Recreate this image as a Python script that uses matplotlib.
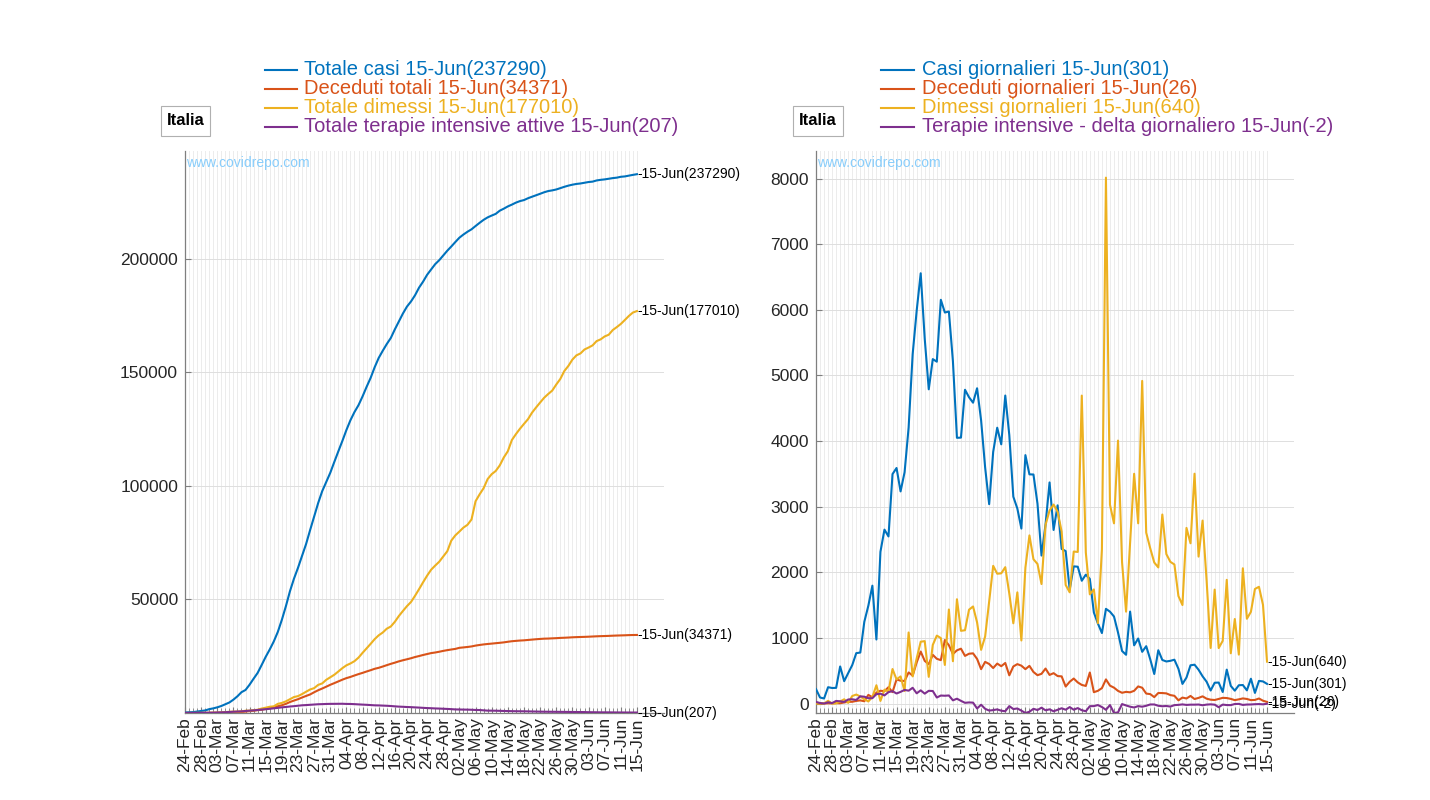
import numpy as np
import pandas as pd
import matplotlib
matplotlib.use("Agg")
import matplotlib.pyplot as plt
from matplotlib.lines import Line2D
from matplotlib.patches import Rectangle

plt.rcParams['font.family'] = ['Liberation Sans', 'DejaVu Sans']

# ---------------- data ----------------
dates = pd.date_range('2020-02-24', '2020-06-15', freq='D')
date_labels = [d.strftime('%d-%b') for d in dates]
region = 'Italia'
watermark = 'www.covidrepo.com'

totale_casi = [229, 322, 400, 650, 888, 1128, 1694, 2036, 2502, 3089, 3858, 4636, 5883, 7375,
               9172, 10149, 12462, 15113, 17660, 21157, 24747, 27980, 31506, 35713, 41035, 47021,
               53578, 59138, 63927, 69176, 74386, 80539, 86498, 92472, 97689, 101739, 105792,
               110574, 115242, 119827, 124632, 128948, 132547, 135586, 139422, 143626, 147577,
               152271, 156363, 159516, 162488, 165155, 168941, 172434, 175925, 178972, 181228,
               183957, 187327, 189973, 192994, 195351, 197675, 199414, 201505, 203591, 205463,
               207428, 209328, 210717, 211938, 213013, 214457, 215858, 217185, 218268, 219070,
               219814, 221216, 222104, 223096, 223885, 224760, 225435, 225886, 226699, 227364,
               228006, 228658, 229327, 229858, 230158, 230555, 231139, 231732, 232248, 232664,
               232997, 233197, 233515, 233836, 234013, 234531, 234801, 234998, 235278, 235561,
               235763, 236142, 236305, 236651, 236989, 237290]
deceduti_totali = [7, 10, 12, 17, 21, 29, 34, 52, 79, 107, 148, 197, 233, 366, 463, 631, 827,
                   1016, 1266, 1441, 1809, 2158, 2503, 2978, 3405, 4032, 4825, 5476, 6077, 6820,
                   7503, 8165, 9134, 10023, 10779, 11591, 12428, 13155, 13915, 14681, 15362,
                   15887, 16523, 17127, 17669, 18279, 18849, 19468, 19899, 20465, 21067, 21645,
                   22170, 22745, 23227, 23660, 24114, 24648, 25085, 25549, 25969, 26384, 26644,
                   26977, 27359, 27682, 27967, 28236, 28710, 28884, 29079, 29315, 29684, 29958,
                   30201, 30395, 30560, 30739, 30911, 31106, 31368, 31610, 31763, 31908, 32007,
                   32169, 32330, 32486, 32616, 32735, 32785, 32877, 32955, 33072, 33142, 33229,
                   33340, 33415, 33475, 33530, 33601, 33689, 33774, 33846, 33899, 33964, 34043,
                   34114, 34167, 34223, 34301, 34345, 34371]
totale_dimessi = [1, 1, 3, 45, 46, 50, 83, 149, 160, 276, 414, 523, 589, 622, 724, 1004, 1045,
                  1258, 1439, 1966, 2335, 2749, 2941, 4025, 4440, 5129, 6072, 7024, 7432, 8326,
                  9362, 10361, 10950, 12384, 13030, 14620, 15729, 16847, 18278, 19758, 20996,
                  21815, 22837, 24392, 26491, 28470, 30455, 32534, 34211, 35435, 37130, 38092,
                  40164, 42727, 44927, 47055, 48877, 51600, 54543, 57576, 60498, 63120, 64928,
                  66624, 68941, 71252, 75945, 78249, 79914, 81654, 82879, 85231, 93245, 96276,
                  99023, 103031, 105186, 106587, 109039, 112541, 115288, 120205, 122810, 125176,
                  127326, 129401, 132282, 134560, 136720, 138840, 140479, 141981, 144658, 147101,
                  150604, 152844, 155633, 157507, 158355, 160092, 160938, 161895, 163781, 164548,
                  165837, 166584, 168646, 169939, 171338, 173085, 174865, 176370, 177010]
terapie_intensive = [26, 35, 36, 56, 64, 105, 140, 166, 229, 295, 351, 462, 567, 650, 733, 877,
                     1028, 1153, 1328, 1518, 1672, 1851, 2060, 2257, 2498, 2655, 2857, 3009, 3204,
                     3396, 3489, 3612, 3732, 3856, 3906, 3981, 4023, 4035, 4053, 4068, 3994, 3977,
                     3898, 3792, 3693, 3605, 3497, 3381, 3343, 3260, 3186, 3079, 2936, 2812, 2733,
                     2635, 2573, 2471, 2384, 2267, 2173, 2102, 2009, 1956, 1863, 1795, 1694, 1578,
                     1539, 1501, 1479, 1427, 1333, 1311, 1168, 1034, 1027, 999, 952, 893, 855, 808,
                     775, 762, 749, 716, 676, 640, 595, 572, 553, 541, 521, 505, 489, 475, 450, 435,
                     424, 408, 353, 338, 316, 293, 287, 283, 263, 249, 236, 227, 220, 209, 207]

casi_giornalieri = [221, 93, 78, 250, 238, 240, 566, 342, 466, 587, 769, 778, 1247, 1492, 1797,
                    977, 2313, 2651, 2547, 3497, 3590, 3233, 3526, 4207, 5322, 5986, 6557, 5560,
                    4789, 5249, 5210, 6153, 5959, 5974, 5217, 4050, 4053, 4782, 4668, 4585, 4805,
                    4316, 3599, 3039, 3836, 4204, 3951, 4694, 4092, 3153, 2972, 2667, 3786, 3493,
                    3491, 3047, 2256, 2729, 3370, 2646, 3021, 2357, 2324, 1739, 2091, 2086, 1872,
                    1965, 1900, 1389, 1221, 1075, 1444, 1401, 1327, 1083, 802, 744, 1402, 888, 992,
                    789, 875, 675, 451, 813, 665, 642, 652, 669, 531, 300, 397, 584, 593, 516, 416,
                    333, 200, 318, 321, 177, 518, 270, 197, 280, 283, 202, 379, 163, 346, 338, 301]
deceduti_giornalieri = [7, 3, 2, 5, 4, 8, 5, 18, 27, 28, 41, 49, 36, 133, 97, 168, 196, 189, 250,
                        175, 368, 349, 345, 475, 427, 627, 793, 651, 601, 743, 683, 662, 969, 889,
                        756, 812, 837, 727, 760, 766, 681, 525, 636, 604, 542, 610, 570, 619, 431,
                        566, 602, 578, 525, 575, 482, 433, 454, 534, 437, 464, 420, 415, 260, 333,
                        382, 323, 285, 269, 474, 174, 195, 236, 369, 274, 243, 194, 165, 179, 172,
                        195, 262, 242, 153, 145, 99, 162, 161, 156, 130, 119, 50, 92, 78, 117, 70,
                        87, 111, 75, 60, 55, 71, 88, 85, 72, 53, 65, 79, 71, 53, 56, 78, 44, 26]
dimessi_giornalieri = [1, 0, 2, 42, 1, 4, 33, 66, 11, 116, 138, 109, 66, 33, 102, 280, 41, 213,
                       181, 527, 369, 414, 192, 1084, 415, 689, 943, 952, 408, 894, 1036, 999, 589,
                       1434, 646, 1590, 1109, 1118, 1431, 1480, 1238, 819, 1022, 1555, 2099, 1979,
                       1985, 2079, 1677, 1224, 1695, 962, 2072, 2563, 2200, 2128, 1822, 2723, 2943,
                       3033, 2922, 2622, 1808, 1696, 2317, 2311, 4693, 2304, 1665, 1740, 1225, 2352,
                       8014, 3031, 2747, 4008, 2155, 1401, 2452, 3502, 2747, 4917, 2605, 2366, 2150,
                       2075, 2881, 2278, 2160, 2120, 1639, 1502, 2677, 2443, 3503, 2240, 2789, 1874,
                       848, 1737, 846, 957, 1886, 767, 1289, 747, 2062, 1293, 1399, 1747, 1780,
                       1505, 640]
ti_delta_giornaliero = [26, 9, 1, 20, 8, 41, 35, 26, 63, 66, 56, 111, 105, 83, 83, 144, 151, 125,
                        175, 190, 154, 179, 209, 197, 241, 157, 202, 152, 195, 192, 93, 123, 120,
                        124, 50, 75, 42, 12, 18, 15, -74, -17, -79, -106, -99, -88, -108, -116,
                        -38, -83, -74, -107, -143, -124, -79, -98, -62, -102, -87, -117, -94, -71,
                        -93, -53, -93, -68, -101, -116, -39, -38, -22, -52, -94, -22, -143, -134,
                        -7, -28, -47, -59, -38, -47, -33, -13, -13, -33, -40, -36, -45, -23, -19,
                        -12, -20, -16, -16, -14, -25, -15, -11, -16, -55, -15, -22, -23, -6, -4,
                        -20, -14, -13, -9, -7, -11, -2]

left_names = ['Totale casi', 'Deceduti totali', 'Totale dimessi',
              'Totale terapie intensive attive']
right_names = ['Casi giornalieri', 'Deceduti giornalieri', 'Dimessi giornalieri',
               'Terapie intensive - delta giornaliero']
colors = ['#0072BD', '#D95319', '#EDB120', '#7E2F8E']

left_series = [totale_casi, deceduti_totali, totale_dimessi, terapie_intensive]
right_series = [casi_giornalieri, deceduti_giornalieri, dimessi_giornalieri, ti_delta_giornaliero]

# ---------------- figure ----------------
W, H = 1430, 800
fig = plt.figure(figsize=(W / 100, H / 100), dpi=100)
fig.patch.set_facecolor('white')

x = np.arange(len(dates))
last_lab = date_labels[-1]


def px(xp, yp):
    return xp / W, 1 - yp / H


def setup_axes(ax, series, names, ylim, yticks, leg_x, box_x):
    for s, c in zip(series, colors):
        ax.plot(x, s, color=c, lw=1.5, zorder=3)
        ax.text(x[-1], s[-1], f'-{last_lab}({s[-1]})', fontsize=10, color='black',
                ha='left', va='center', clip_on=False, zorder=4)
    ax.set_xlim(0, 118.7)
    ax.set_ylim(*ylim)
    ax.set_yticks(yticks)
    ax.set_yticklabels([str(v) for v in yticks])
    ax.set_xticks(x[::4])
    ax.set_xticklabels(date_labels[::4], rotation=90)
    ax.set_xticks(x, minor=True)
    ax.grid(which='both', axis='x', color='#ececec', lw=0.7, zorder=0)
    ax.grid(which='major', axis='y', color='#dedede', lw=0.7, zorder=0)
    ax.set_axisbelow(True)
    for sp in ['top', 'right']:
        ax.spines[sp].set_visible(False)
    for sp in ['left', 'bottom']:
        ax.spines[sp].set_color('#7f7f7f')
        ax.spines[sp].set_linewidth(0.9)
    ax.tick_params(axis='both', which='major', direction='in', length=4.5, width=0.8,
                   color='#7f7f7f', labelsize=12.5, labelcolor='#262626', pad=5)
    ax.tick_params(axis='x', which='minor', direction='in', length=3.5, width=0.6,
                   color='#7f7f7f')
    ax.tick_params(axis='x', which='major', pad=3)
    ax.text(0.003, 0.978, watermark, transform=ax.transAxes, fontsize=10,
            color='#88cdfb', ha='left', va='center')

    # legend (manual, MATLAB-like)
    rows = [69.5, 88.5, 107.7, 126.7]
    for s, c, nm, ry in zip(series, colors, names, rows):
        x0, y0 = px(leg_x, ry)
        x1, _ = px(leg_x + 32, ry)
        fig.add_artist(Line2D([x0, x1], [y0, y0], color=c, lw=1.5,
                              transform=fig.transFigure))
        tx, _ = px(leg_x + 40, ry)
        fig.text(tx, y0, f'{nm} {last_lab}({s[-1]})', color=c, fontsize=14.5,
                 ha='left', va='center')

    # region box
    bx0, by1 = px(box_x, 135.7)
    bw = 49 / W
    bh = 29.7 / H
    fig.add_artist(Rectangle((bx0, by1), bw, bh, transform=fig.transFigure,
                             facecolor='white', edgecolor='#b0b0b0', lw=0.8))
    fig.text(bx0 + bw / 2, by1 + bh / 2, region, fontsize=12, fontweight='bold',
             ha='center', va='center', color='black')


axL = fig.add_axes([185 / W, 1 - 713 / H, 479 / W, 562 / H])
axR = fig.add_axes([816 / W, 1 - 713 / H, 478 / W, 562 / H])

setup_axes(axL, left_series, left_names, (1, 247500),
           [50000, 100000, 150000, 200000], 264.5, 161)
setup_axes(axR, right_series, right_names, (-143, 8420),
           list(range(0, 8001, 1000)), 881.5, 793.5)

fig.savefig('out.png', dpi=100, facecolor='white')
